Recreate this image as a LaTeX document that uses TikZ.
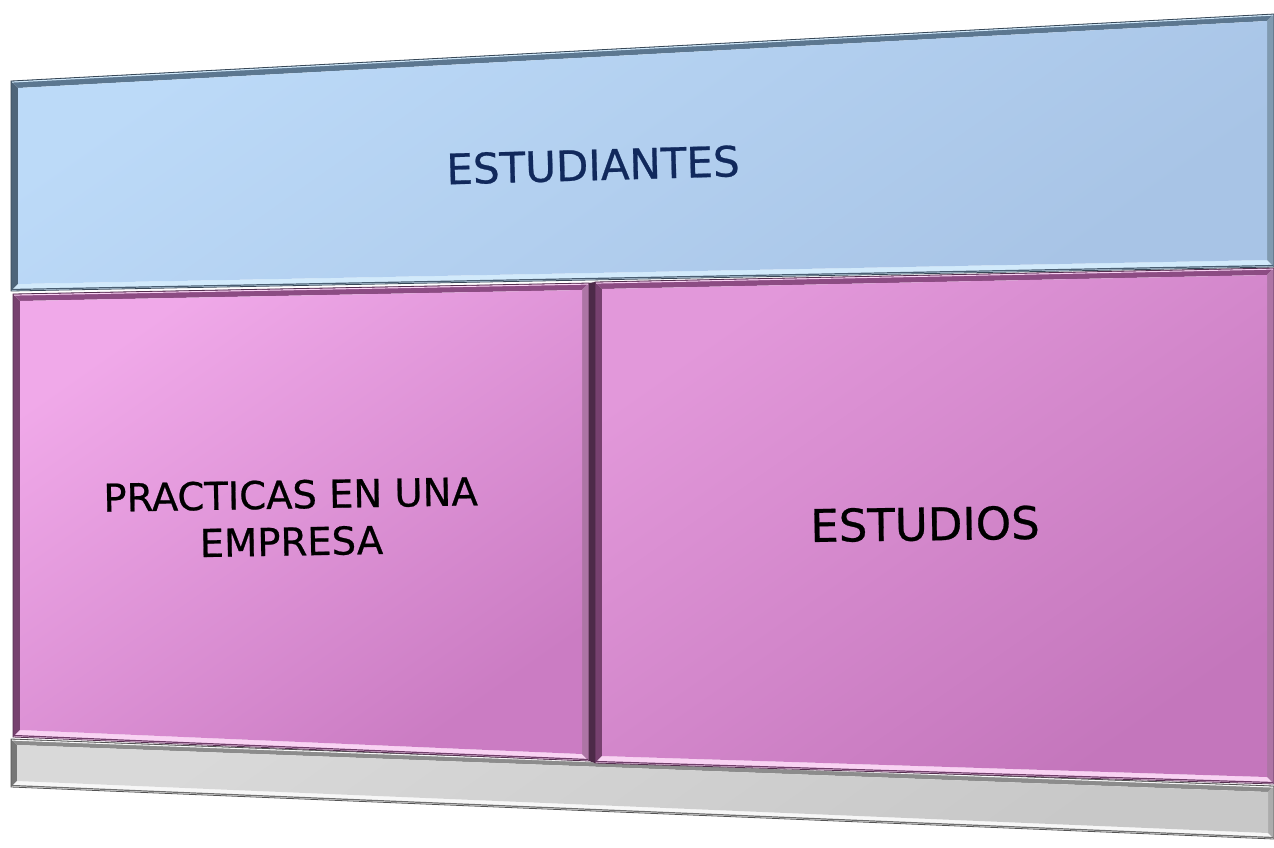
\documentclass[tikz,border=0pt]{standalone}
\usepackage{fontspec}
\setmainfont{DejaVu Sans}[FakeBold=0.6]
\usetikzlibrary{calc}
\definecolor{bluetop}{HTML}{BCDAF8}
\definecolor{bluebot}{HTML}{A8C4E6}
\definecolor{bluedark}{HTML}{5C7790}
\definecolor{bluelight}{HTML}{D2EAFB}
\definecolor{pinkAtop}{HTML}{F0A9E9}
\definecolor{pinkAbot}{HTML}{CB7CC3}
\definecolor{pinkBtop}{HTML}{E298DA}
\definecolor{pinkBbot}{HTML}{C476BC}
\definecolor{pinkdark}{HTML}{8C4C83}
\definecolor{pinklight}{HTML}{F9D3F3}
\definecolor{graymid}{HTML}{D9D9D9}
\definecolor{graydark}{HTML}{8C8C8C}
\definecolor{graylight}{HTML}{F7F7F7}
\definecolor{navytext}{HTML}{11295C}
\tikzset{
  labeltext/.style={align=center, inner sep=0pt},
}
% #1..#4 outer corners TL TR BR BL (names), #5 bevel width, #6 top colour, #7 bottom colour,
% #8 dark edge, #9 light edge
\newcommand\bevbox[9]{%
  \coordinate (#1i) at ($(#1)+(#5,#5)$);
  \coordinate (#2i) at ($(#2)+(-#5,#5)$);
  \coordinate (#3i) at ($(#3)+(-#5,-#5)$);
  \coordinate (#4i) at ($(#4)+(#5,-#5)$);
  \fill[#8] (#1) -- (#2) -- (#2i) -- (#1i) -- cycle;
  \fill[#8!85!black] (#1) -- (#1i) -- (#4i) -- (#4) -- cycle;
  \fill[#9] (#4) -- (#4i) -- (#3i) -- (#3) -- cycle;
  \fill[#8!70!#9] (#2) -- (#3) -- (#3i) -- (#2i) -- cycle;
  \shade[top color=#6, bottom color=#7, shading angle=35] (#1i) -- (#2i) -- (#3i) -- (#4i) -- cycle;
  \draw[#9, line width=1.2pt] ($(#1)+(1,1)$) -- ($(#2)+(-1,1)$);
  \draw[#8!80!black, line width=1.2pt] ($(#4)+(1,-1.5)$) -- ($(#3)+(-1,-1.5)$);
  \draw[#8!60!black, line width=0.8pt] (#1) -- (#2) -- (#3) -- (#4) -- cycle;
}
\begin{document}
\begin{tikzpicture}[x=1pt,y=-1pt]
\useasboundingbox (0,0) rectangle (1274,847);
% outer corners
\coordinate (a1) at (11,81);   \coordinate (a2) at (1274,14);
\coordinate (a3) at (1274,267); \coordinate (a4) at (11,291);
\coordinate (b1) at (13,294);  \coordinate (b2) at (589,283);
\coordinate (b3) at (589,761); \coordinate (b4) at (13,737);
\coordinate (c1) at (595,282); \coordinate (c2) at (1274,268);
\coordinate (c3) at (1274,784); \coordinate (c4) at (595,763);
\coordinate (d1) at (11,739);  \coordinate (d2) at (1274,786);
\coordinate (d3) at (1274,839); \coordinate (d4) at (11,787);

\bevbox{d1}{d2}{d3}{d4}{6}{graymid}{graymid!92!black}{graydark}{graylight}
\bevbox{a1}{a2}{a3}{a4}{7}{bluetop}{bluebot}{bluedark}{bluelight}
\bevbox{b1}{b2}{b3}{b4}{7}{pinkAtop}{pinkAbot}{pinkdark}{pinklight}
\bevbox{c1}{c2}{c3}{c4}{7}{pinkBtop}{pinkBbot}{pinkdark}{pinklight}
\fill[pinkdark!55!black] (b2) -- (c1) -- (c4) -- (b3) -- cycle;

\node[labeltext, text=navytext, font=\fontsize{42}{50}\selectfont, rotate=1.6] (t1) at (593,165) {ESTUDIANTES};
\node[labeltext, text=black, font=\fontsize{38.5}{47}\selectfont, rotate=1] (t2) at (291,518) {PRACTICAS EN UNA\\EMPRESA};
\node[labeltext, text=black, font=\fontsize{45}{52}\selectfont, rotate=0.8] (t3) at (925,524) {ESTUDIOS};
\end{tikzpicture}
\end{document}
